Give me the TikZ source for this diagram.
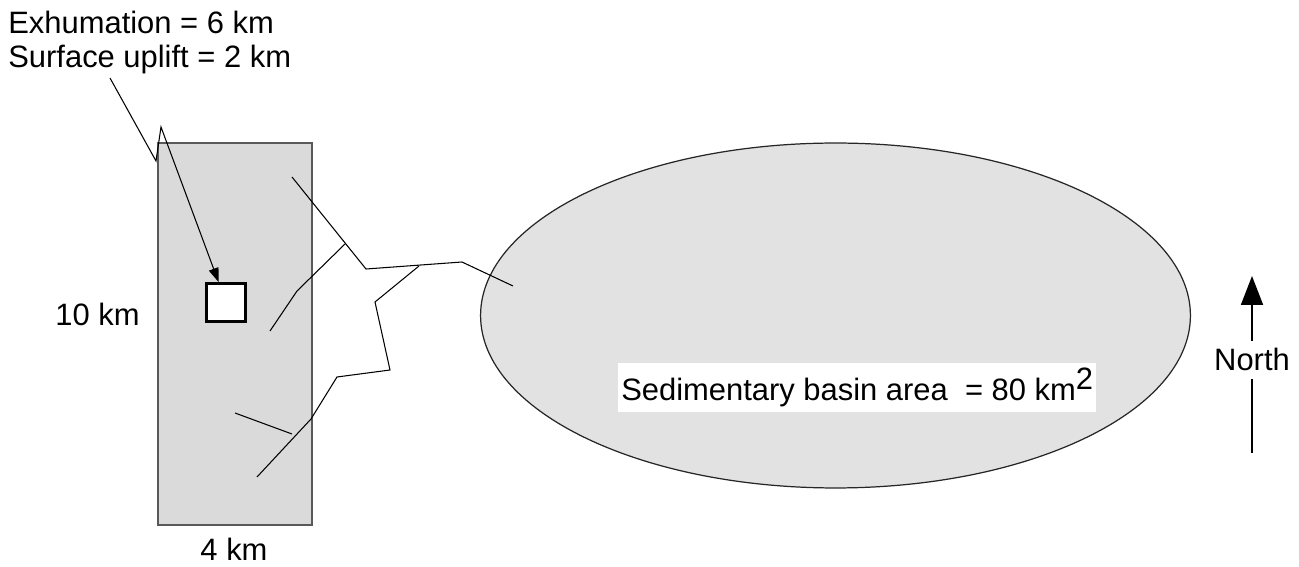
\documentclass[tikz,border=0pt]{standalone}
\usepackage{fontspec}
\setmainfont{Liberation Sans}
\usetikzlibrary{shapes.geometric,arrows.meta}
\definecolor{rangefill}{HTML}{DADADA}
\definecolor{basinfill}{HTML}{E2E2E2}
\tikzset{
  lbl/.style={inner sep=0pt, anchor=base west, font=\fontsize{17.6}{19.3}\selectfont},
  river/.style={line width=0.6pt, line join=miter},
}
\begin{document}
\begin{tikzpicture}[x=0.02cm, y=-0.02cm]
\useasboundingbox (0,0) rectangle (1299,567);
% mountain range and basin
\node[draw=black!65, line width=0.9pt, fill=rangefill, minimum width=3.08cm, minimum height=7.64cm, inner sep=0pt] (range) at (235,334) {};
\node[ellipse, draw=black!85, line width=0.7pt, fill=basinfill, minimum width=14.2cm, minimum height=6.9cm, inner sep=0pt] (basin) at (835.5,315.5) {};
\node[draw, line width=1.7pt, fill=white, minimum width=0.78cm, minimum height=0.76cm, inner sep=0pt] (sq) at (226,302.5) {};
% rivers
\coordinate (mouth) at (513,286);
\coordinate (r1) at (462,262);
\coordinate (r2) at (366,269);
\coordinate (r3) at (292,177);
\draw[river] (mouth) -- (r1) -- (r2) -- (r3);
\draw[river] (345,244) -- (297,291) -- (270,331);
\draw[river] (419,266) -- (375,302) -- (390,370) -- (337,377) -- (311,419) -- (257,477);
\draw[river] (235,413) -- (292,434);
% labels
\node[lbl] (exh) at (8,34) {Exhumation = 6 km};
\node[lbl] (upl) at (8,68) {Surface uplift = 2 km};
\node[lbl] (height) at (55,326) {10 km};
\node[lbl, anchor=base] (width) at (234,561) {4 km};
\node[lbl, fill=white, inner xsep=0.06cm, inner ysep=0.1cm] (area) at (618,401) {Sedimentary basin area\ \ = 80 km\raisebox{0.37em}{2}};
\node[lbl, anchor=base, inner ysep=0.15cm] (north) at (1252,371) {North};
% leader to sample site
\coordinate (l0) at (110,78);
\coordinate (l1) at (156,161);
\coordinate (l2) at (161,127);
\draw[line width=0.6pt, -{Triangle[length=0.28cm, width=0.2cm]}] (l0) -- (l1) -- (l2) -- (sq.110);
% north arrow
\coordinate (ntail) at (1252,453);
\coordinate (ntip) at (1252,276);
\draw[line width=1.1pt] (ntail) -- (north.south);
\draw[line width=1.1pt, -{Triangle[length=0.58cm, width=0.44cm]}] (north.north) -- (ntip);
\end{tikzpicture}
\end{document}
